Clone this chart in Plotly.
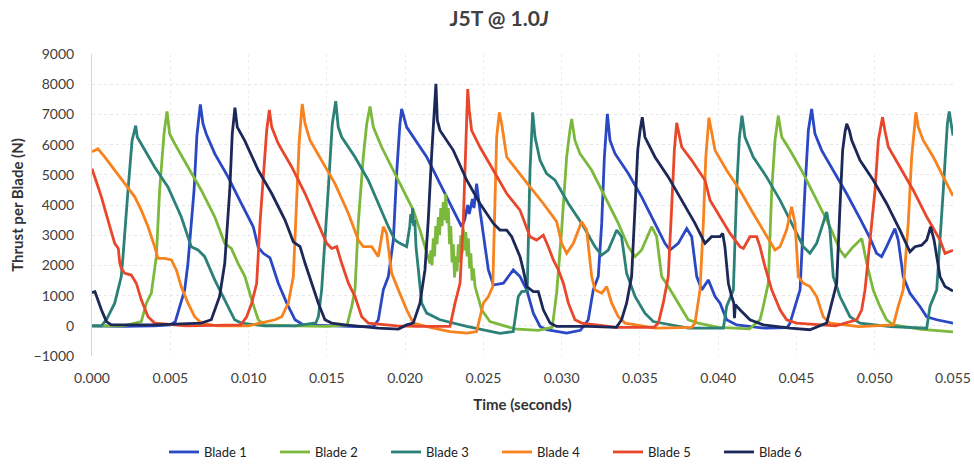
import plotly.graph_objects as go

# ---------------- data ----------------
x_ticks = [0.000, 0.005, 0.010, 0.015, 0.020, 0.025, 0.030, 0.035, 0.040, 0.045, 0.050, 0.055]
y_ticks = [-1000, 0, 1000, 2000, 3000, 4000, 5000, 6000, 7000, 8000, 9000]
blade_names = ["Blade 1", "Blade 2", "Blade 3", "Blade 4", "Blade 5", "Blade 6"]

b1_t = [0, 0.002, 0.004, 0.0050, 0.00532, 0.00592, 0.00613, 0.00652, 0.0067, 0.00692, 0.00709, 0.0073,
        0.00784, 0.00869, 0.00943, 0.0103, 0.01062, 0.01094, 0.01137, 0.0119, 0.01244, 0.01297, 0.0135,
        0.015, 0.017, 0.0180, 0.01829, 0.01861, 0.01893, 0.01925, 0.01946, 0.01967, 0.01978, 0.0201,
        0.02052, 0.02138, 0.02223, 0.02308, 0.02361, 0.0238, 0.0240, 0.0241, 0.0243, 0.0244, 0.02457,
        0.02478, 0.025, 0.02532, 0.02564, 0.02628, 0.02691, 0.02734, 0.02777, 0.02819, 0.02862, 0.02904,
        0.03032, 0.0312, 0.0317, 0.03202, 0.03234, 0.03256, 0.03273, 0.03292, 0.03309, 0.03341, 0.03426,
        0.03511, 0.03596, 0.0366, 0.03692, 0.03745, 0.03799, 0.03831, 0.03863, 0.03895, 0.03937, 0.0398,
        0.04012, 0.04054, 0.04118, 0.043, 0.0444, 0.04459, 0.04491, 0.04523, 0.04554, 0.04576, 0.04597,
        0.04618, 0.04661, 0.04735, 0.0482, 0.04906, 0.0497, 0.05012, 0.05044, 0.05076, 0.05129, 0.0515,
        0.05182, 0.05225, 0.05289, 0.05332, 0.05396, 0.055]
b1_y = [0, -20, 0, 30, 140, 1190, 2070, 4490, 6300, 7330, 6690, 6350,
        5700, 4930, 4160, 3280, 2600, 2400, 2250, 1410, 750, 200, 30,
        0, -30, -20, 200, 1190, 1630, 2840, 5040, 6690, 7180, 6580,
        6250, 5590, 4710, 3830, 3280, 3500, 4000, 3700, 4200, 3900, 4710,
        3830, 2950, 1850, 1350, 1410, 1850, 1630, 1190, 420, -20, -130,
        -240, -150, 200, 1190, 1630, 3390, 5590, 7020, 6140, 5700, 5040,
        4270, 3390, 2730, 2510, 2730, 3220, 2950, 1630, 1190, 1520, 970,
        750, 200, 30, -80, -60, 90, 640, 1190, 4490, 6470, 7180,
        6360, 5810, 5150, 4380, 3550, 2900, 2400, 2290, 2620, 3220, 2840,
        1630, 1080, 640, 300, 200, 90]

b2_t = [0, 0.002, 0.00315, 0.00347, 0.00379, 0.00411, 0.00432, 0.0046, 0.00479, 0.00496, 0.00528, 0.00613,
        0.00698, 0.00784, 0.00848, 0.0089, 0.00933, 0.00977, 0.0102, 0.01062, 0.01105, 0.013, 0.015, 0.0163,
        0.01659, 0.0168, 0.01701, 0.01733, 0.01755, 0.01776, 0.01797, 0.0185, 0.01914, 0.01978, 0.0201,
        0.02052, 0.02095, 0.02138, 0.02159,
        0.02165, 0.02172, 0.0218, 0.02188, 0.02196, 0.02204, 0.02212, 0.0222, 0.02228, 0.02236, 0.02244,
        0.02252, 0.0226, 0.02268, 0.02276, 0.02284, 0.02292, 0.023, 0.02308, 0.02316, 0.02324, 0.02332,
        0.0234, 0.02348, 0.02356, 0.02364, 0.02372, 0.0238, 0.02388, 0.02396, 0.02404, 0.02412, 0.0242,
        0.02428, 0.02436, 0.02447, 0.02489, 0.02542, 0.027, 0.0285, 0.0294, 0.02955, 0.02968, 0.0300,
        0.03032, 0.03053, 0.03064, 0.03085, 0.03117, 0.03192, 0.03277, 0.03362, 0.03426, 0.03469, 0.03511,
        0.03575, 0.03607, 0.03639, 0.03681, 0.03745, 0.03809, 0.03873, 0.040, 0.042, 0.04267, 0.04288,
        0.0432, 0.04342, 0.04363, 0.04384, 0.04406, 0.04459, 0.04544, 0.04629, 0.04714, 0.04778, 0.0481,
        0.04863, 0.04917, 0.04949, 0.0499, 0.05033, 0.05076, 0.05119, 0.053, 0.055]
b2_y = [0, 0, 140, 750, 1080, 2290, 4490, 6360, 7100, 6360, 6030, 5260,
        4490, 3610, 2730, 2560, 2070, 1630, 860, 200, 30, 0, -20, 30,
        640, 1190, 3390, 5590, 6690, 7260, 6580, 5920, 5260, 4600, 4270,
        3830, 3170, 2400, 2070,
        2500, 2000, 2900, 2300, 3300, 2700, 3600, 3000, 3900, 3300, 4100,
        3500, 4380, 3400, 3900, 2700, 3300, 2100, 2700, 1600, 2300, 1800,
        2700, 2100, 3000, 2400, 3200, 2500, 3100, 2300, 2900, 1900, 2400,
        1500, 1900, 1300, 530, 140, -100, -150, -50, 500, 1080, 3170,
        5590, 6470, 6850, 6140, 5700, 5150, 4270, 3390, 2620, 2290, 2510,
        3280, 2950, 1630, 1300, 750, 200, 90, -50, -100, 200, 640,
        1410, 4490, 6140, 6960, 6250, 5810, 5040, 4160, 3280, 2510, 2290,
        2620, 2890, 2070, 1190, 640, 200, 30, -120, -200]

b3_t = [0, 0.0006, 0.00092, 0.00145, 0.00187, 0.00198, 0.0023, 0.00256, 0.00279, 0.00289, 0.004, 0.00485,
        0.0057, 0.00634, 0.00677, 0.0072, 0.00784, 0.00848, 0.00911, 0.00954, 0.011, 0.013, 0.0143, 0.01446,
        0.01467, 0.01509, 0.01535, 0.01557, 0.01573, 0.01595, 0.0168, 0.01765, 0.01829, 0.01893, 0.01935,
        0.01967, 0.0201, 0.0203, 0.02036, 0.02042, 0.02048, 0.02055, 0.02062, 0.0207, 0.02085, 0.02106,
        0.02138, 0.02223, 0.02394, 0.02606, 0.02691, 0.02723, 0.02745, 0.0278, 0.02798, 0.02815, 0.0283,
        0.02862, 0.02904, 0.02958, 0.03043, 0.03128, 0.03213, 0.03256, 0.03298, 0.03352, 0.03383, 0.03415,
        0.03469, 0.03532, 0.03585, 0.03809, 0.04033, 0.04054, 0.04097, 0.04118, 0.04135, 0.04152, 0.04171,
        0.04224, 0.04309, 0.04395, 0.0448, 0.04544, 0.04586, 0.04629, 0.04693, 0.04714, 0.04735, 0.04778,
        0.04842, 0.04906, 0.051, 0.05332, 0.05353, 0.05396, 0.05438, 0.05464, 0.05476, 0.05485, 0.055]
b3_y = [0, 0, 200, 750, 1630, 2290, 4490, 6140, 6630, 6250, 5260, 4600,
        3610, 2620, 2510, 2290, 1520, 860, 200, 90, 0, 0, 100, 300,
        1190, 4490, 6690, 7435, 6580, 6250, 5590, 4820, 4050, 3280, 2840,
        2730, 2620, 3300, 3700, 3400, 3900, 3300, 3500, 2600, 1850, 750,
        420, 200, -20, -250, -190, 970, 1130, 1150, 5150, 7070, 6250,
        5480, 5040, 4820, 4050, 3390, 2620, 2340, 2510, 3170, 2950, 1740,
        970, 420, 140, -80, -80, 640, 1190, 4490, 6200, 6960, 6250,
        5590, 4930, 4160, 3280, 2620, 2400, 2730, 3770, 3170, 1630, 970,
        300, 90, -30, -80, 640, 1190, 4490, 6690, 7100, 6740, 6300]

b4_t = [0, 0.00038, 0.00081, 0.00145, 0.00209, 0.00273, 0.00315, 0.00358, 0.004, 0.00422, 0.00464, 0.00507,
        0.00539, 0.0057, 0.00613, 0.00656, 0.00698, 0.008, 0.010, 0.01169, 0.01212, 0.01254, 0.01286, 0.01307,
        0.01324, 0.01343, 0.01361, 0.01393, 0.01467, 0.01552, 0.01638, 0.01701, 0.01733, 0.01787, 0.01829,
        0.01861, 0.01882, 0.01914, 0.01957, 0.0201, 0.02052, 0.0218, 0.02287, 0.02394, 0.02457, 0.0248,
        0.025, 0.02532, 0.0256, 0.02574, 0.02585, 0.02602, 0.02617, 0.02649, 0.02713, 0.02798, 0.02883,
        0.02968, 0.03, 0.03032, 0.03075, 0.03128, 0.0316, 0.03192, 0.03213, 0.03256, 0.03288, 0.0332,
        0.03362, 0.03405, 0.036, 0.0383, 0.03852, 0.03884, 0.03905, 0.03921, 0.03941, 0.03958, 0.0398,
        0.04054, 0.04139, 0.04224, 0.04309, 0.04363, 0.04395, 0.04437, 0.04469, 0.04491, 0.04512, 0.04544,
        0.04586, 0.04629, 0.04671, 0.04714, 0.049, 0.05119, 0.0515, 0.05182, 0.05214, 0.05236, 0.05263,
        0.05278, 0.0531, 0.05374, 0.05438, 0.055]
b4_y = [5760, 5860, 5590, 5150, 4710, 4270, 3830, 3280, 2620, 2230, 2230, 2180,
        1850, 1300, 750, 300, 90, 0, 0, 200, 300, 750, 1630, 3940,
        6140, 7350, 6690, 6140, 5480, 4710, 3720, 2840, 2620, 2620, 2290,
        3280, 3060, 1740, 1190, 530, 90, -80, -190, -240, -190, 300,
        750, 970, 1300, 4050, 6250, 7070, 6690, 5590, 5150, 4600, 4050,
        3450, 2730, 2400, 2730, 3450, 3170, 1630, 1190, 1080, 1300, 750,
        300, 90, -80, -50, 90, 1190, 3390, 5590, 6890, 6360, 5810,
        5150, 4490, 3720, 2950, 2510, 2620, 3170, 3940, 3390, 1630, 1410,
        1300, 970, 300, 90, -30, 30, 640, 1190, 3390, 5590, 7070,
        6580, 6140, 5590, 4930, 4300]

b5_t = [0, 0.0006, 0.00102, 0.00145, 0.00168, 0.00177, 0.00187, 0.00209, 0.00251, 0.00283, 0.00315, 0.00358,
        0.004, 0.006, 0.0095, 0.00988, 0.0102, 0.01052, 0.01073, 0.01094, 0.01116, 0.01133, 0.01148, 0.0119,
        0.01276, 0.01361, 0.01446, 0.01499, 0.01531, 0.01563, 0.01595, 0.01638, 0.0168, 0.01723, 0.01765,
        0.0195, 0.02074, 0.0225, 0.02287, 0.02319, 0.02351, 0.02372, 0.02387, 0.024, 0.0241, 0.02425,
        0.02478, 0.02564, 0.02649, 0.02734, 0.02766, 0.02798, 0.0284, 0.02883, 0.02915, 0.02947, 0.02979,
        0.03011, 0.03043, 0.03085, 0.03128, 0.0335, 0.0359, 0.03618, 0.03649, 0.03681, 0.03703, 0.0372,
        0.03735, 0.0375, 0.03767, 0.03831, 0.03916, 0.03948, 0.04012, 0.04076, 0.04139, 0.04161, 0.04203,
        0.04246, 0.04267, 0.04299, 0.04342, 0.04395, 0.04437, 0.04501, 0.0475, 0.04885, 0.04917, 0.04938,
        0.0497, 0.05002, 0.05023, 0.0505, 0.05065, 0.05087, 0.05161, 0.05246, 0.05332, 0.05417, 0.05449,
        0.055]
b5_y = [5200, 4270, 3500, 2730, 2560, 2100, 1900, 1740, 1680, 1410, 860, 300,
        90, 0, 30, 300, 750, 1410, 3390, 5040, 6470, 7150, 6580, 6030,
        5260, 4380, 3390, 2730, 2560, 2620, 2070, 1410, 970, 300, 90,
        0, -20, -30, -20, 750, 1410, 3500, 5700, 7840, 7130, 6470,
        5920, 5150, 4380, 3830, 3390, 2950, 2840, 3000, 2620, 2180, 1850,
        1410, 750, 200, 90, -50, -50, 90, 750, 1630, 3940, 5810,
        6720, 6360, 5920, 5480, 4820, 4160, 3610, 3060, 2620, 2560, 2950,
        2950, 2620, 1960, 1190, 530, 200, 90, 0, 200, 530, 1190,
        2840, 4490, 6140, 6910, 6470, 5920, 5260, 4490, 3610, 2840, 2400,
        2500]

b6_t = [0, 0.00019, 0.0006, 0.00092, 0.00124, 0.004, 0.00698, 0.00762, 0.00815, 0.00848, 0.0088, 0.00896,
        0.00913, 0.00928, 0.00975, 0.01062, 0.01148, 0.01233, 0.01286, 0.01329, 0.01361, 0.01403, 0.01446,
        0.01488, 0.01531, 0.01616, 0.01829, 0.01957, 0.0201, 0.02052, 0.02095, 0.02127, 0.02148, 0.0217,
        0.0218, 0.02197, 0.02206, 0.02223, 0.02308, 0.02394, 0.02478, 0.02564, 0.02606, 0.02649, 0.02681,
        0.02734, 0.02755, 0.02777, 0.02819, 0.02851, 0.02883, 0.02926, 0.02968, 0.0317, 0.0335, 0.03383,
        0.03415, 0.03447, 0.03469, 0.03486, 0.03501, 0.03515, 0.03532, 0.03596, 0.03681, 0.03767, 0.03852,
        0.03916, 0.03958, 0.04012, 0.04029, 0.04043, 0.04065, 0.04086, 0.041, 0.04104, 0.0411, 0.04139,
        0.04203, 0.04288, 0.04459, 0.04586, 0.04693, 0.04725, 0.04757, 0.04778, 0.04795, 0.0481, 0.04821,
        0.04838, 0.04853, 0.04906, 0.04991, 0.05076, 0.05161, 0.05225, 0.05257, 0.053, 0.05332, 0.05357,
        0.05379, 0.05417, 0.05449, 0.055]
b6_y = [1100, 1130, 530, 140, 30, 30, 90, 200, 970, 2070, 4490, 6360,
        7220, 6580, 6140, 5150, 4380, 3500, 2780, 2620, 2070, 1410, 750,
        200, 90, 30, -80, -110, 30, 90, 750, 1850, 3500, 5700,
        6470, 8010, 6800, 6470, 5810, 4820, 4050, 3390, 3170, 3170, 2950,
        2290, 1850, 1300, 1130, 1130, 530, 90, -20, -20, -50, 200,
        750, 1630, 3940, 5810, 6470, 6910, 6250, 5590, 4930, 4160, 3390,
        2730, 2950, 2950, 3060, 2620, 1410, 970, 750, 250, 700, 530,
        200, 30, -80, -130, 90, 750, 1410, 3940, 5810, 6410, 6690,
        6470, 6140, 5480, 4820, 4050, 3170, 2450, 2620, 2670, 2840, 3280,
        2840, 1630, 1300, 1150]

series_t = [b1_t, b2_t, b3_t, b4_t, b5_t, b6_t]
series_y = [b1_y, b2_y, b3_y, b4_y, b5_y, b6_y]
colors = ["#2a48c4", "#7cb83c", "#2b8078", "#f7821e", "#e9472b", "#1b2858"]

FONT = "Lato, 'Open Sans', sans-serif"

fig = go.Figure()
for name, t, y, c in zip(blade_names, series_t, series_y, colors):
    fig.add_trace(go.Scatter(x=t, y=y, mode="lines", name=name,
                             line=dict(color=c, width=2.8)))

fig.update_layout(
    width=974, height=465,
    margin=dict(l=92, r=21, t=54, b=109, autoexpand=False),
    paper_bgcolor="white", plot_bgcolor="white",
    font=dict(family=FONT, size=14, color="#404040"),
    title=dict(text="<b>J5T @ 1.0<i>J</i></b>", x=499/974, xanchor="center",
               y=1 - 19/465, yanchor="middle", xref="container", yref="container",
               font=dict(family=FONT, size=21, color="#404040")),
    showlegend=True,
    legend=dict(orientation="h", x=497/974, xanchor="center", xref="container",
                y=1 - 452/465, yanchor="middle", yref="container",
                font=dict(family=FONT, size=13, color="#222222"),
                entrywidth=66, entrywidthmode="pixels", bgcolor="rgba(0,0,0,0)"),
)
fig.update_xaxes(range=[0, 0.055], tickvals=x_ticks, tickformat=".3f",
                 showgrid=True, gridcolor="#eeeeee", griddash="dot", gridwidth=1,
                 zeroline=False, showline=False, ticks="",
                 ticklabelstandoff=12,
                 title=dict(text="<b>Time (seconds)</b>", standoff=14,
                            font=dict(family=FONT, size=15, color="#333333")))
fig.update_yaxes(range=[-1000, 9000], tickvals=y_ticks,
                 showgrid=True, gridcolor="#e8e8e8", griddash="dot", gridwidth=1,
                 zeroline=False, showline=True, linecolor="#d6d6d6", linewidth=1,
                 ticks="", ticklabelstandoff=14,
                 title=dict(text="<b>Thrust per Blade (N)</b>", standoff=6,
                            font=dict(family=FONT, size=15, color="#333333")))

fig.write_html("out.html")
